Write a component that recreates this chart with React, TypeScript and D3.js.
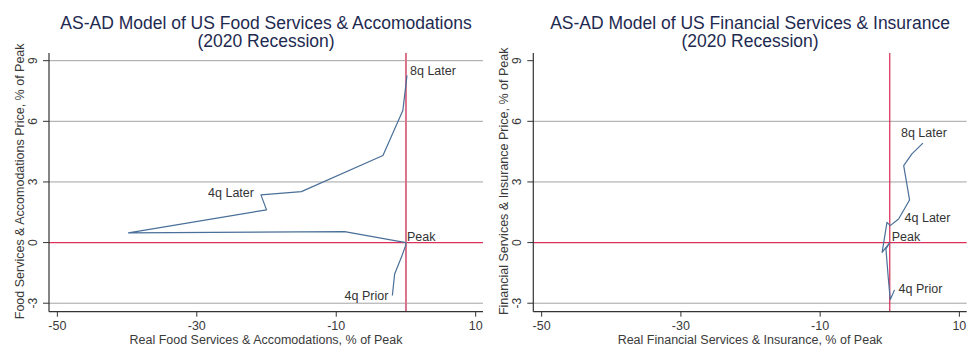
import * as d3 from "d3";
import { useEffect, useRef } from "react";

// quarters from 4q prior to 8q after the peak
const quarters = [-4, -3, -2, -1, 0, 1, 2, 3, 4, 5, 6, 7, 8];
const xTicks = [-50, -30, -10, 10];
const yTicks = [-3, 0, 3, 6, 9];

const foodOutput = [-1.95, -1.62, -0.66, -0.05, 0, -8.8, -39.8, -20.0, -20.8, -15.0, -3.3, -0.45, 0.15];
const foodPrice = [-2.62, -1.55, -0.73, -0.15, 0, 0.54, 0.48, 1.62, 2.36, 2.52, 4.31, 6.53, 8.27];
const foodGrid = [-3, 3, 6, 9];

const finOutput = [0.69, 0.07, -0.2, -0.55, 0, -1.1, -0.4, 0.07, 1.27, 2.84, 2.0, 3.18, 4.76];
const finPrice = [-2.34, -2.82, -1.8, -0.31, 0, -0.48, 1.0, 0.84, 1.17, 2.11, 3.81, 4.39, 4.92];
const finGrid = [-3, 3, 6];

const markerQuarters = [-4, 0, 4, 8];
const markerNames = ["4q Prior", "Peak", "4q Later", "8q Later"];

const panels = [
  {
    title: ["AS-AD Model of US Food Services & Accomodations", "(2020 Recession)"],
    xTitle: "Real Food Services & Accomodations, % of Peak",
    yTitle: "Food Services & Accomodations Price, % of Peak",
    xs: foodOutput,
    ys: foodPrice,
    grid: foodGrid,
    left: 49,
    right: 483,
    vColor: "#d9728a",
    vWidth: 2,
    // label placement: [anchor, dx, dy]
    place: [
      ["end", -4, 0],
      ["start", 1, -6],
      ["end", -7, -2],
      ["start", 3, -4],
    ],
  },
  {
    title: ["AS-AD Model of US Financial Services & Insurance", "(2020 Recession)"],
    xTitle: "Real Financial Services & Insurance, % of Peak",
    yTitle: "Financial Services & Insurance Price, % of Peak",
    xs: finOutput,
    ys: finPrice,
    grid: finGrid,
    left: 533.3,
    right: 966.7,
    vColor: "#d8284f",
    vWidth: 1.2,
    place: [
      ["start", 4, -1],
      ["start", 2, -6],
      ["start", 6, -1],
      ["middle", 1, -10],
    ],
  },
];

const App = () => {
  const ref = useRef<SVGSVGElement>(null);

  useEffect(() => {
    const width = 975;
    const height = 361;
    const top = 53;
    const bottom = 311.7;
    const font = "'Liberation Sans', Arial, sans-serif";
    const textColor = "#3a3a3a";

    const svg = d3
      .select(ref.current)
      .attr("width", width)
      .attr("height", height)
      .html("");

    svg.append("rect").attr("width", width).attr("height", height).attr("fill", "#fff");

    const y = d3.scaleLinear().domain([-3.42, 9.38]).range([bottom, top]);

    panels.forEach((p) => {
      const x = d3.scaleLinear().domain([-51.2, 11.05]).range([p.left, p.right]);
      const g = svg.append("g").style("font-family", font);
      const mid = (p.left + p.right) / 2;

      // title
      g.append("text")
        .attr("x", mid)
        .attr("y", 29.3)
        .attr("text-anchor", "middle")
        .style("font-size", "17.5px")
        .style("fill", "#1e2a50")
        .text(p.title[0]);
      g.append("text")
        .attr("x", mid)
        .attr("y", 47)
        .attr("text-anchor", "middle")
        .style("font-size", "17.5px")
        .style("fill", "#1e2a50")
        .text(p.title[1]);

      // gridlines
      g.selectAll(".grid")
        .data(p.grid)
        .enter()
        .append("line")
        .attr("x1", p.left)
        .attr("x2", p.right)
        .attr("y1", (d) => y(d))
        .attr("y2", (d) => y(d))
        .attr("stroke", "#a3a3a3")
        .attr("stroke-width", 1);

      // reference lines at the peak
      g.append("line")
        .attr("x1", p.left)
        .attr("x2", p.right)
        .attr("y1", y(0))
        .attr("y2", y(0))
        .attr("stroke", "#dc3058")
        .attr("stroke-width", 1.3);
      g.append("line")
        .attr("x1", x(0))
        .attr("x2", x(0))
        .attr("y1", top)
        .attr("y2", bottom)
        .attr("stroke", p.vColor)
        .attr("stroke-width", p.vWidth);

      // axes
      g.append("line")
        .attr("x1", p.left)
        .attr("x2", p.left)
        .attr("y1", top)
        .attr("y2", bottom)
        .attr("stroke", "#333")
        .attr("stroke-width", 1.2);
      g.append("line")
        .attr("x1", p.left)
        .attr("x2", p.right)
        .attr("y1", bottom)
        .attr("y2", bottom)
        .attr("stroke", "#333")
        .attr("stroke-width", 1.2);

      xTicks.forEach((t) => {
        g.append("line")
          .attr("x1", x(t))
          .attr("x2", x(t))
          .attr("y1", bottom)
          .attr("y2", bottom + 5)
          .attr("stroke", "#333");
        g.append("text")
          .attr("x", x(t))
          .attr("y", 330)
          .attr("text-anchor", "middle")
          .style("font-size", "12.5px")
          .style("fill", textColor)
          .text(t);
      });

      yTicks.forEach((t) => {
        g.append("line")
          .attr("x1", p.left - 6)
          .attr("x2", p.left)
          .attr("y1", y(t))
          .attr("y2", y(t))
          .attr("stroke", "#333");
        g.append("text")
          .attr("transform", `translate(${p.left - 16}, ${y(t)}) rotate(-90)`)
          .attr("text-anchor", "middle")
          .attr("dominant-baseline", "central")
          .style("font-size", "12px")
          .style("fill", textColor)
          .text(t);
      });

      g.append("text")
        .attr("x", mid)
        .attr("y", 343.5)
        .attr("text-anchor", "middle")
        .style("font-size", "12.5px")
        .style("fill", textColor)
        .text(p.xTitle);
      g.append("text")
        .attr("transform", `translate(${p.left - 29}, ${(top + bottom) / 2 - 1}) rotate(-90)`)
        .attr("text-anchor", "middle")
        .attr("dominant-baseline", "central")
        .style("font-size", "12.5px")
        .style("fill", textColor)
        .text(p.yTitle);

      // the path
      const pts = quarters.map((q, i) => [p.xs[i], p.ys[i]] as [number, number]);
      const line = d3
        .line<[number, number]>()
        .x((d) => x(d[0]))
        .y((d) => y(d[1]));
      g.append("path")
        .attr("d", line(pts))
        .attr("fill", "none")
        .attr("stroke", "#4a6f98")
        .attr("stroke-width", 1.2)
        .attr("stroke-linejoin", "round");

      // quarter labels
      markerQuarters.forEach((q, k) => {
        const i = quarters.indexOf(q);
        const [anchor, dx, dy] = p.place[k] as [string, number, number];
        g.append("text")
          .attr("x", x(p.xs[i]) + dx)
          .attr("y", y(p.ys[i]) + dy)
          .attr("text-anchor", anchor)
          .attr("dominant-baseline", "central")
          .style("font-size", "12.5px")
          .style("fill", "#333")
          .text(markerNames[k]);
      });
    });
  }, []);

  return (
    <div style={{ position: "absolute", left: 0, top: 0 }}>
      <svg ref={ref} style={{ display: "block" }}></svg>
    </div>
  );
};

export default App;
